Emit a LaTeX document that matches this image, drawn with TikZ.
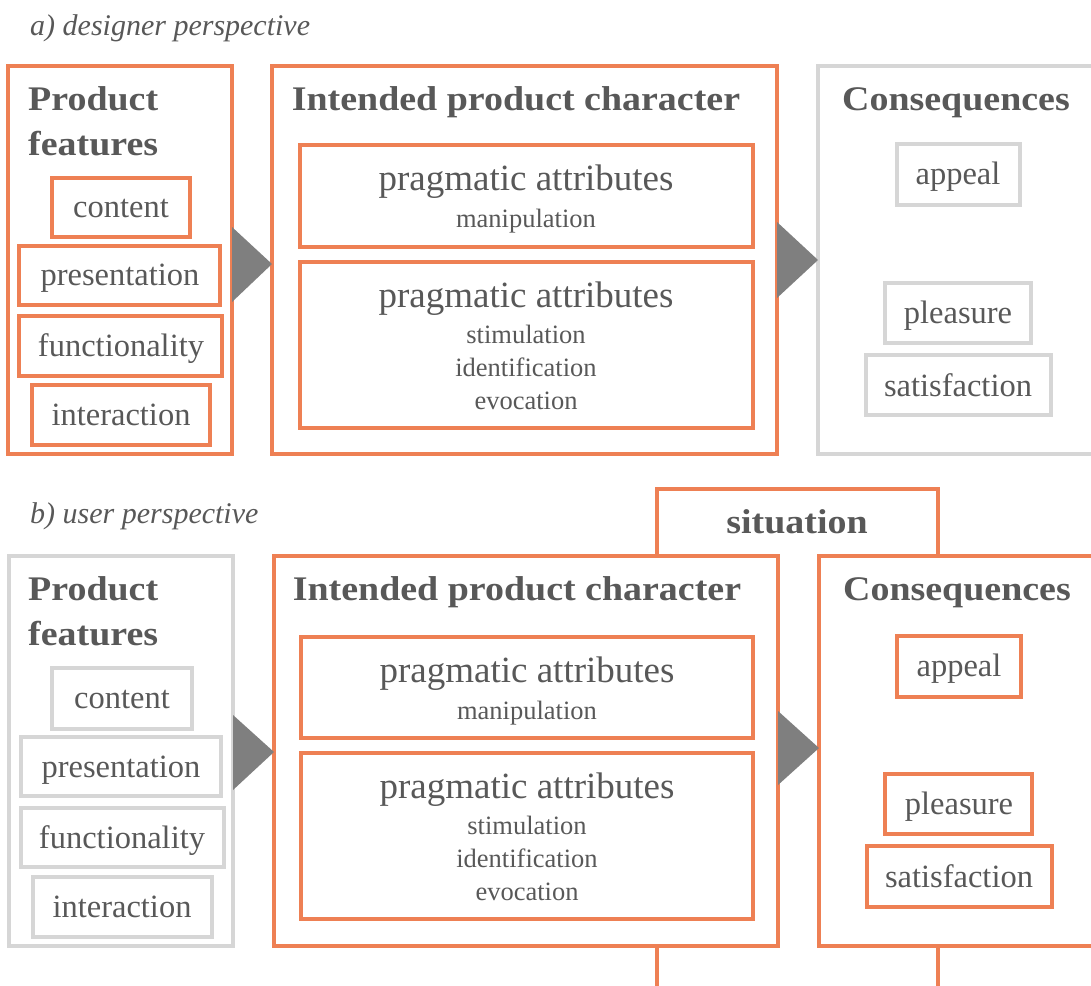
\documentclass[tikz,border=0pt]{standalone}
\usepackage{fontspec}
\setmainfont{Liberation Serif}
\newfontfamily\headfont[FakeStretch=1.1]{Liberation Serif}
\usetikzlibrary{calc}

\definecolor{orng}{RGB}{238,128,84}
\definecolor{lgray}{RGB}{214,214,214}
\definecolor{agray}{RGB}{127,127,127}
\definecolor{txt}{RGB}{88,88,88}

% box from top-left (x1,y1) to bottom-right (x2,y2)
\newcommand\boxat[6]{%
  \node[#1, minimum width={#5-#3}, minimum height={#6-#4}] (#2)
    at ({(#3+#5)/2},{(#4+#6)/2}) {};}

\tikzset{
  obox/.style={draw=orng, line width=3.1pt, rectangle, inner sep=0pt, outer sep=0pt},
  gbox/.style={draw=lgray, line width=3.1pt, rectangle, inner sep=0pt, outer sep=0pt},
  oline/.style={draw=orng, line width=3.1pt},
  head/.style={text=txt, inner sep=0pt, anchor=base west,
    font=\headfont\bfseries\fontsize{34.5}{40}\selectfont},
  headc/.style={head, anchor=base},
  lbl/.style={text=txt, inner sep=0pt, anchor=base,
    font=\fontsize{32.5}{38}\selectfont},
  big/.style={text=txt, inner sep=0pt, anchor=base,
    font=\fontsize{37}{42}\selectfont},
  small/.style={text=txt, inner sep=0pt, anchor=base,
    font=\fontsize{26.5}{30}\selectfont},
  ttl/.style={text=txt, inner sep=0pt, anchor=base west,
    font=\itshape\fontsize{30}{34}\selectfont},
  tri/.style={fill=agray, draw=none},
}

\begin{document}
\begin{tikzpicture}[x=1pt, y=-1pt]
\useasboundingbox (0,0) rectangle (1091,985);
\clip (0,0) rectangle (1091,985);

% ---------------- a) designer perspective ----------------
\node[ttl] (title-a) at (30,35) {a) designer perspective};

\boxat{obox}{pf-a}{8}{66}{232}{454}
\node[head] (pf-a-1) at (28,110) {Product};
\node[head] (pf-a-2) at (28,155) {features};
\boxat{obox}{content-a}{52}{178}{190}{237}
\node[lbl] (content-a-t) at (121,217) {content};
\boxat{obox}{present-a}{19}{246}{220}{305}
\node[lbl] (present-a-t) at (120,285) {presentation};
\boxat{obox}{funct-a}{19}{316}{222}{376}
\node[lbl] (funct-a-t) at (121,356) {functionality};
\boxat{obox}{inter-a}{32}{385}{210}{445}
\node[lbl] (inter-a-t) at (121,425) {interaction};

\boxat{obox}{ipc-a}{272}{66}{777}{454}
\node[headc] (ipc-a-t) at (516,110) {Intended product character};
\boxat{obox}{prag1-a}{300}{145}{753}{247}
\node[big] (prag1-a-t) at (526,190) {pragmatic attributes};
\node[small] (prag1-a-s) at (526,227) {manipulation};
\boxat{obox}{prag2-a}{300}{262}{753}{428}
\node[big] (prag2-a-t) at (526,307) {pragmatic attributes};
\node[small] (prag2-a-s1) at (526,343) {stimulation};
\node[small] (prag2-a-s2) at (526,376) {identification};
\node[small] (prag2-a-s3) at (526,409) {evocation};

\boxat{gbox}{cons-a}{818}{66}{1110}{454}
\node[headc] (cons-a-t) at (956,110) {Consequences};
\boxat{gbox}{appeal-a}{897}{144}{1020}{205}
\node[lbl] (appeal-a-t) at (958,184) {appeal};
\boxat{gbox}{pleas-a}{885}{283}{1031}{343}
\node[lbl] (pleas-a-t) at (958,323) {pleasure};
\boxat{gbox}{satis-a}{866}{355}{1051}{415}
\node[lbl] (satis-a-t) at (958,396) {satisfaction};

% arrows between the three blocks
\fill[tri] (pf-a.east |- 0,227) -- (ipc-a.west |- 0,264) -- (pf-a.east |- 0,302) -- cycle;
\fill[tri] (ipc-a.east |- 0,222) -- (cons-a.west |- 0,260) -- (ipc-a.east |- 0,298) -- cycle;

% ---------------- b) user perspective ----------------
\node[ttl] (title-b) at (30,523) {b) user perspective};

\boxat{gbox}{pf-b}{9}{556}{233}{946}
\node[head] (pf-b-1) at (28,600) {Product};
\node[head] (pf-b-2) at (28,645) {features};
\boxat{gbox}{content-b}{52}{668}{192}{729}
\node[lbl] (content-b-t) at (122,708) {content};
\boxat{gbox}{present-b}{21}{737}{221}{796}
\node[lbl] (present-b-t) at (121,777) {presentation};
\boxat{gbox}{funct-b}{21}{808}{224}{867}
\node[lbl] (funct-b-t) at (122,848) {functionality};
\boxat{gbox}{inter-b}{33}{877}{212}{937}
\node[lbl] (inter-b-t) at (122,917) {interaction};

\boxat{obox}{ipc-b}{274}{556}{778}{946}
\node[headc] (ipc-b-t) at (517,600) {Intended product character};
\boxat{obox}{prag1-b}{301}{637}{753}{738}
\node[big] (prag1-b-t) at (527,682) {pragmatic attributes};
\node[small] (prag1-b-s) at (527,719) {manipulation};
\boxat{obox}{prag2-b}{301}{753}{753}{919}
\node[big] (prag2-b-t) at (527,798) {pragmatic attributes};
\node[small] (prag2-b-s1) at (527,834) {stimulation};
\node[small] (prag2-b-s2) at (527,867) {identification};
\node[small] (prag2-b-s3) at (527,900) {evocation};

\boxat{obox}{cons-b}{819}{556}{1110}{946}
\node[headc] (cons-b-t) at (957,600) {Consequences};
\boxat{obox}{appeal-b}{897}{636}{1021}{697}
\node[lbl] (appeal-b-t) at (959,676) {appeal};
\boxat{obox}{pleas-b}{885}{774}{1032}{834}
\node[lbl] (pleas-b-t) at (959,814) {pleasure};
\boxat{obox}{satis-b}{867}{846}{1052}{907}
\node[lbl] (satis-b-t) at (959,887) {satisfaction};

% situation frame spanning both blocks
\coordinate (sit-l) at (657,489);
\coordinate (sit-r) at (938,489);
\coordinate (foot-l) at (657,995);
\coordinate (foot-r) at (938,995);
\draw[oline] (ipc-b.north -| sit-l) -- (sit-l) -- (sit-r) -- (cons-b.north -| sit-r);
\node[headc] (situation) at (797,533) {situation};
\draw[oline] (ipc-b.south -| foot-l) -- (foot-l);
\draw[oline] (cons-b.south -| foot-r) -- (foot-r);

\fill[tri] (pf-b.east |- 0,715) -- (ipc-b.west |- 0,752) -- (pf-b.east |- 0,790) -- cycle;
\fill[tri] (ipc-b.east |- 0,711) -- (cons-b.west |- 0,748) -- (ipc-b.east |- 0,785) -- cycle;
\end{tikzpicture}
\end{document}
